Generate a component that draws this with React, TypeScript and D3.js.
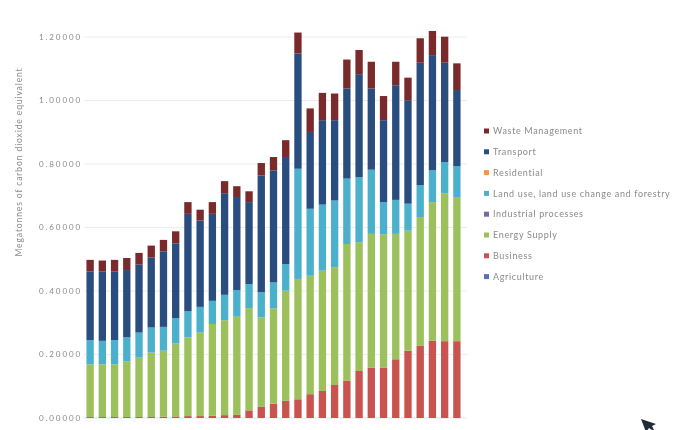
import { scaleBand, scaleLinear, stack, format } from "d3";

const width = 688;
const height = 430;

const seriesNames = [
  "Agriculture",
  "Business",
  "Energy Supply",
  "Industrial processes",
  "Land use, land use change and forestry",
  "Residential",
  "Transport",
  "Waste Management",
];

const seriesColors = [
  "#5b6fb5",
  "#c9524f",
  "#9cc15b",
  "#8064a2",
  "#4bb0cc",
  "#f79646",
  "#2b4e80",
  "#7a2a2a",
];

const agriculture = [
  0, 0, 0, 0, 0, 0, 0, 0, 0, 0, 0, 0, 0, 0, 0, 0,
  0, 0, 0, 0, 0, 0, 0, 0, 0, 0, 0, 0, 0, 0, 0,
];
const business = [
  0.003, 0.003, 0.003, 0.003, 0.003, 0.003, 0.004, 0.005, 0.006, 0.006, 0.007,
  0.009, 0.011, 0.024, 0.035, 0.045, 0.054, 0.059, 0.075, 0.085, 0.104, 0.117,
  0.148, 0.159, 0.159, 0.185, 0.212, 0.227, 0.243, 0.242, 0.242,
];
const energySupply = [
  0.166, 0.166, 0.166, 0.175, 0.187, 0.203, 0.208, 0.23, 0.248, 0.263, 0.289,
  0.299, 0.308, 0.322, 0.282, 0.301, 0.347, 0.379, 0.373, 0.379, 0.371, 0.431,
  0.406, 0.421, 0.419, 0.395, 0.378, 0.406, 0.437, 0.466, 0.454,
];
const industrial = [
  0, 0, 0, 0, 0, 0, 0, 0, 0, 0, 0, 0, 0, 0, 0, 0,
  0, 0, 0, 0, 0, 0, 0, 0, 0, 0, 0, 0, 0, 0, 0,
];
const landUse = [
  0.076, 0.074, 0.076, 0.076, 0.079, 0.079, 0.075, 0.079, 0.082, 0.081, 0.073,
  0.08, 0.084, 0.076, 0.079, 0.081, 0.084, 0.347, 0.211, 0.208, 0.21, 0.206,
  0.205, 0.202, 0.102, 0.107, 0.085, 0.1, 0.1, 0.098, 0.097,
];
const residential = [
  0, 0, 0, 0, 0, 0, 0, 0, 0, 0, 0, 0, 0, 0, 0, 0,
  0, 0, 0, 0, 0, 0, 0, 0, 0, 0, 0, 0, 0, 0, 0,
];
const transport = [
  0.217, 0.219, 0.217, 0.212, 0.214, 0.221, 0.238, 0.236, 0.307, 0.272, 0.274,
  0.32, 0.293, 0.258, 0.368, 0.353, 0.337, 0.363, 0.242, 0.266, 0.253, 0.284,
  0.324, 0.256, 0.258, 0.361, 0.326, 0.386, 0.363, 0.313, 0.24,
];
const waste = [
  0.036, 0.034, 0.036, 0.038, 0.037, 0.037, 0.036, 0.038, 0.037, 0.034, 0.037,
  0.038, 0.034, 0.034, 0.039, 0.042, 0.053, 0.066, 0.074, 0.086, 0.084, 0.091,
  0.076, 0.084, 0.076, 0.074, 0.071, 0.077, 0.076, 0.082, 0.084,
];

const yTicks = [0, 0.2, 0.4, 0.6, 0.8, 1.0, 1.2];

export default function App() {
  const columns = [
    agriculture,
    business,
    energySupply,
    industrial,
    landUse,
    residential,
    transport,
    waste,
  ];
  const rows = business.map((_, i) => {
    const row: Record<string, number> = { index: i };
    seriesNames.forEach((name, k) => {
      row[name] = columns[k][i];
    });
    return row;
  });

  const layers = stack<Record<string, number>>().keys(seriesNames)(rows);

  const x = scaleBand<number>()
    .domain(rows.map((_, i) => i))
    .range([84, 463])
    .paddingInner(0.4)
    .paddingOuter(0.2);
  const y = scaleLinear().domain([0, 1.2]).range([418, 37]);
  const fmt = format(".5f");

  const legendItems = seriesNames
    .map((name, k) => ({ name, color: seriesColors[k] }))
    .reverse();

  return (
    <svg
      width={width}
      height={height}
      style={{ position: "absolute", left: 0, top: 0, background: "#fff" }}
    >
      <defs>
        <filter id="soft" x="-5%" y="-5%" width="110%" height="110%">
          <feGaussianBlur stdDeviation="0.75" />
        </filter>
      </defs>
      <rect width={width} height={height} fill="#fff" />
      <g filter="url(#soft)">
        {yTicks.map((t) => (
          <g key={t}>
            {t > 0 && (
              <line
                x1={84}
                x2={467}
                y1={y(t)}
                y2={y(t)}
                stroke="#ececec"
                strokeWidth={1}
              />
            )}
            <text
              x={82}
              y={y(t)}
              dy="0.35em"
              textAnchor="end"
              fontFamily="Lato"
              fontSize={8}
              letterSpacing={1.9}
              fill="#8a8a8a"
            >
              {fmt(t)}
            </text>
          </g>
        ))}
        <line x1={84} x2={467} y1={y(0)} y2={y(0)} stroke="#e4e4e4" />

        <text
          transform="translate(22,162) rotate(-90)"
          textAnchor="middle"
          fontFamily="Lato"
          fontSize={8.5}
          letterSpacing={0.9}
          fill="#8a8a8a"
        >
          Megatonnes of carbon dioxide equivalent
        </text>

        {layers.map((layer, k) => (
          <g key={layer.key} fill={seriesColors[k]}>
            {layer.map((d, i) => {
              const h = y(d[0]) - y(d[1]);
              if (h <= 0) return null;
              return (
                <rect
                  key={i}
                  x={x(i)}
                  y={y(d[1])}
                  width={x.bandwidth()}
                  height={h}
                />
              );
            })}
          </g>
        ))}

        {legendItems.map((item, i) => (
          <g key={item.name} transform={`translate(484, ${131 + i * 20.8})`}>
            <rect x={0} y={-2.5} width={5} height={5} fill={item.color} />
            <text
              x={9}
              dy="0.35em"
              fontFamily="Lato"
              fontSize={9}
              letterSpacing={0.65}
              fill="#8a8a8a"
            >
              {item.name}
            </text>
          </g>
        ))}

        <path
          d="M641,419 L646,432 L649,428 L655,432 L652,426 L656,424 Z"
          fill="#222a38"
        />
      </g>
    </svg>
  );
}
